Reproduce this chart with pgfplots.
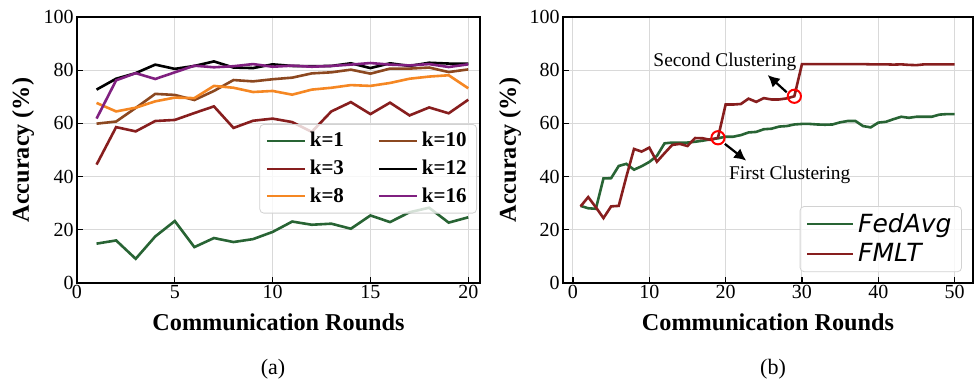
\documentclass[border=0pt]{standalone}
\usepackage{pgfplots}
\pgfplotsset{compat=1.18}
\usepackage{fontspec}
\setmainfont{Liberation Serif}
\newfontfamily\dejavu{DejaVu Sans}
\usetikzlibrary{arrows.meta}
\definecolor{cgreen}{RGB}{40,100,52}
\definecolor{cdred}{RGB}{135,30,30}
\definecolor{corange}{RGB}{245,135,35}
\definecolor{cbrown}{RGB}{140,72,32}
\definecolor{cpurple}{RGB}{128,32,128}
\pgfplotsset{
  myax/.style={
    scale only axis, height=133pt,
    ymin=0, ymax=100, ytick={0,20,...,100},
    grid=major, major grid style={gray!30, line width=0.5pt},
    axis line style={line width=1.4pt, black},
    tick align=inside, xtick pos=left, ytick pos=left,
    tick style={black, line width=0.6pt}, major tick length=3pt,
    ticklabel style={font=\fontsize{10}{11}\selectfont},
    xticklabel style={inner sep=1pt},
    yticklabel style={inner sep=1.5pt},
    /pgf/number format/assume math mode=true,
    label style={font=\bfseries\fontsize{12.1}{13}\selectfont},
    xlabel={Communication Rounds}, ylabel={Accuracy (\%)},
    xlabel style={at={(axis description cs:0.5,-0.147)}, anchor=center},
    every axis plot/.append style={line width=1.3pt},
    legend cell align=left,
  }
}
\begin{document}
\begin{tikzpicture}
\path[use as bounding box] (0,0) rectangle (488pt,190.5pt);
\begin{axis}[myax, at={(38.5pt,49pt)}, anchor=south west, width=201.5pt,
  xmin=0, xmax=20.6, xtick={0,5,...,20},
  ylabel style={at={(axis description cs:-0.134,0.5)}, anchor=center},
  legend columns=2,
  legend style={at={(rel axis cs:0.9926,0.5977)}, anchor=north east,
    draw=gray!35, rounded corners=2pt, fill=white, fill opacity=0.8, text opacity=1,
    font=\bfseries\fontsize{10.5}{11}\selectfont, inner xsep=3pt, inner ysep=2pt,
    /tikz/every even column/.append style={column sep=15pt},
    row sep=1pt},
  legend image code/.code={\draw[#1, line width=1pt] (0pt,0pt) -- (19pt,0pt);},
]
\addplot[cgreen] coordinates {(1,14.8)(2,16.0)(3,9.1)(4,17.5)(5,23.3)(6,13.5)(7,16.9)(8,15.4)(9,16.5)(10,19.2)(11,23.1)(12,21.9)(13,22.3)(14,20.4)(15,25.4)(16,22.9)(17,26.6)(18,28.3)(19,22.7)(20,24.7)};
\addlegendentry{k=1}
\addplot[cbrown] coordinates {(1,59.9)(2,60.7)(3,65.8)(4,71.1)(5,70.7)(6,68.8)(7,72.2)(8,76.3)(9,75.8)(10,76.6)(11,77.2)(12,78.8)(13,79.2)(14,80.2)(15,78.7)(16,80.6)(17,80.6)(18,81.0)(19,79.3)(20,80.3)};
\addlegendentry{k=10}
\addplot[cdred] coordinates {(1,44.5)(2,58.6)(3,57.0)(4,60.9)(5,61.3)(6,63.9)(7,66.4)(8,58.3)(9,61.0)(10,61.8)(11,60.5)(12,56.8)(13,64.5)(14,68.0)(15,63.5)(16,67.8)(17,63.0)(18,66.0)(19,63.8)(20,68.9)};
\addlegendentry{k=3}
\addplot[black] coordinates {(1,72.7)(2,76.8)(3,78.9)(4,82.1)(5,80.5)(6,81.6)(7,83.3)(8,81.0)(9,80.8)(10,82.2)(11,81.6)(12,81.5)(13,81.6)(14,82.6)(15,80.8)(16,82.6)(17,81.6)(18,82.8)(19,82.5)(20,82.5)};
\addlegendentry{k=12}
\addplot[corange] coordinates {(1,67.7)(2,64.5)(3,65.9)(4,68.3)(5,69.7)(6,69.5)(7,74.1)(8,73.4)(9,71.8)(10,72.2)(11,70.8)(12,72.7)(13,73.4)(14,74.4)(15,74.1)(16,75.2)(17,76.8)(18,77.6)(19,78.1)(20,73.2)};
\addlegendentry{k=8}
\addplot[cpurple] coordinates {(1,61.8)(2,76.2)(3,78.9)(4,76.7)(5,79.2)(6,81.7)(7,81.1)(8,81.5)(9,82.3)(10,81.3)(11,81.7)(12,81.3)(13,81.6)(14,82.1)(15,82.7)(16,82.1)(17,81.8)(18,82.3)(19,81.2)(20,82.2)};
\addlegendentry{k=16}
\end{axis}
\begin{axis}[myax, at={(281.5pt,49pt)}, anchor=south west, width=205pt,
  xmin=-1.3, xmax=52.4, xtick={0,10,...,50},
  ylabel style={at={(axis description cs:-0.129,0.5)}, anchor=center},
  legend style={at={(rel axis cs:0.973,0.041)}, anchor=south east,
    draw=gray!35, rounded corners=2pt, fill=white, fill opacity=0.8, text opacity=1,
    font=\dejavu\itshape\fontsize{12.5}{13}\selectfont, inner xsep=3pt, inner ysep=1.5pt,
    row sep=0pt},
  legend image code/.code={\draw[#1, line width=1pt] (0pt,0pt) -- (23pt,0pt);},
]
\addplot[cgreen] coordinates {(1,29.0)(2,28.1)(3,27.9)(4,39.3)(5,39.4)(6,44.0)(7,44.8)(8,42.6)(9,43.9)(10,45.5)(11,47.8)(12,52.5)(13,52.8)(14,52.8)(15,52.8)(16,53.1)(17,53.5)(18,54.0)(19,54.4)(20,55.0)(21,55.0)(22,55.6)(23,56.6)(24,56.8)(25,57.8)(26,58.0)(27,58.8)(28,59.0)(29,59.6)(30,59.8)(31,59.8)(32,59.6)(33,59.5)(34,59.6)(35,60.4)(36,60.9)(37,60.9)(38,59.0)(39,58.5)(40,60.3)(41,60.6)(42,61.6)(43,62.5)(44,62.1)(45,62.5)(46,62.5)(47,62.5)(48,63.3)(49,63.5)(50,63.5)};
\addlegendentry{FedAvg}
\addplot[cdred] coordinates {(1,28.8)(2,32.3)(3,28.5)(4,24.4)(5,28.8)(6,29.0)(7,40.0)(8,50.4)(9,49.4)(10,50.9)(11,45.6)(12,48.8)(13,51.9)(14,52.3)(15,51.5)(16,54.5)(17,54.4)(18,53.8)(19,54.6)(20,67.1)(21,67.1)(22,67.3)(23,69.3)(24,68.1)(25,69.5)(26,69.0)(27,69.0)(28,69.4)(29,70.2)(30,82.3)(31,82.3)(32,82.3)(33,82.3)(34,82.3)(35,82.3)(36,82.3)(37,82.3)(38,82.3)(39,82.2)(40,82.2)(41,82.2)(42,82.1)(43,82.2)(44,82.0)(45,81.9)(46,82.2)(47,82.2)(48,82.2)(49,82.2)(50,82.2)};
\addlegendentry{FMLT}
\addplot[only marks, mark=o, red, mark size=3.3pt, line width=1pt, forget plot] coordinates {(19,54.6)(29,70.2)};
\draw[-{Latex[length=6pt,width=6pt]}, line width=1.1pt] (axis cs:19.9,52.3) -- (axis cs:22.7,46.0);
\draw[-{Latex[length=6pt,width=6pt]}, line width=1.1pt] (axis cs:28.0,71.7) -- (axis cs:25.5,78.2);
\node[font=\fontsize{9.7}{10}\selectfont] at (axis cs:19.9,83.2) {Second Clustering};
\node[font=\fontsize{9.7}{10}\selectfont] at (axis cs:28.4,40.6) {First Clustering};
\end{axis}
\node[font=\fontsize{11}{12}\selectfont] at (136.5pt,6pt) {(a)};
\node[font=\fontsize{11}{12}\selectfont] at (386.5pt,6pt) {(b)};
\end{tikzpicture}
\end{document}
